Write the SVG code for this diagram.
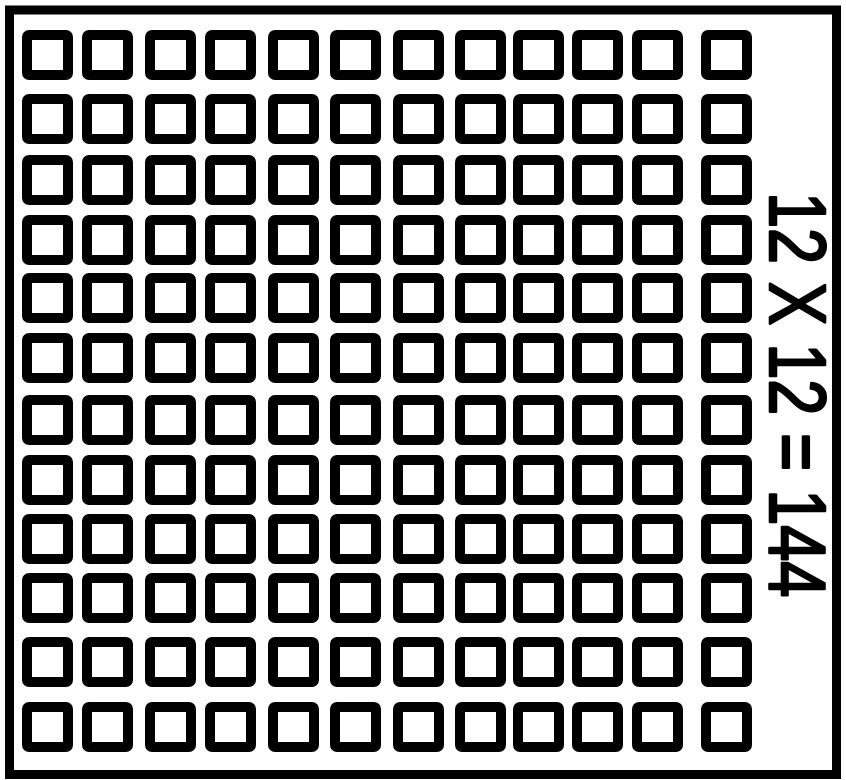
<svg xmlns="http://www.w3.org/2000/svg" xmlns:xlink="http://www.w3.org/1999/xlink" width="846" height="780" viewBox="0 0 846 780">
  <style>
    .frame { fill: #ffffff; stroke: #000000; stroke-width: 9; }
    .sq { fill: #ffffff; stroke: #000000; stroke-width: 10; stroke-linejoin: round; }
    .label { font-family: "Liberation Sans", Arial, sans-serif; font-size: 80px; fill: #000000; stroke: #000000; stroke-width: 2.6; stroke-linejoin: round; }
  </style>
  <defs>
    <rect id="sq" class="sq" x="5" y="5" width="41" height="40" rx="2" ry="2"/>
  </defs>
  <rect width="846" height="780" fill="#ffffff"/>
  <rect id="frame" class="frame" x="9.5" y="10" width="827" height="764.5"/>
  <g id="grid">
    <g id="row1" transform="translate(0,30)">
      <use xlink:href="#sq" x="22"/><use xlink:href="#sq" x="82"/><use xlink:href="#sq" x="145"/><use xlink:href="#sq" x="205"/><use xlink:href="#sq" x="268"/><use xlink:href="#sq" x="330"/><use xlink:href="#sq" x="393"/><use xlink:href="#sq" x="455"/><use xlink:href="#sq" x="513"/><use xlink:href="#sq" x="572"/><use xlink:href="#sq" x="632"/><use xlink:href="#sq" x="701"/>
    </g>
    <g id="row2" transform="translate(0,94)">
      <use xlink:href="#sq" x="22"/><use xlink:href="#sq" x="82"/><use xlink:href="#sq" x="145"/><use xlink:href="#sq" x="205"/><use xlink:href="#sq" x="268"/><use xlink:href="#sq" x="330"/><use xlink:href="#sq" x="393"/><use xlink:href="#sq" x="455"/><use xlink:href="#sq" x="513"/><use xlink:href="#sq" x="572"/><use xlink:href="#sq" x="632"/><use xlink:href="#sq" x="701"/>
    </g>
    <g id="row3" transform="translate(0,155)">
      <use xlink:href="#sq" x="22"/><use xlink:href="#sq" x="82"/><use xlink:href="#sq" x="145"/><use xlink:href="#sq" x="205"/><use xlink:href="#sq" x="268"/><use xlink:href="#sq" x="330"/><use xlink:href="#sq" x="393"/><use xlink:href="#sq" x="455"/><use xlink:href="#sq" x="513"/><use xlink:href="#sq" x="572"/><use xlink:href="#sq" x="632"/><use xlink:href="#sq" x="701"/>
    </g>
    <g id="row4" transform="translate(0,215)">
      <use xlink:href="#sq" x="22"/><use xlink:href="#sq" x="82"/><use xlink:href="#sq" x="145"/><use xlink:href="#sq" x="205"/><use xlink:href="#sq" x="268"/><use xlink:href="#sq" x="330"/><use xlink:href="#sq" x="393"/><use xlink:href="#sq" x="455"/><use xlink:href="#sq" x="513"/><use xlink:href="#sq" x="572"/><use xlink:href="#sq" x="632"/><use xlink:href="#sq" x="701"/>
    </g>
    <g id="row5" transform="translate(0,273)">
      <use xlink:href="#sq" x="22"/><use xlink:href="#sq" x="82"/><use xlink:href="#sq" x="145"/><use xlink:href="#sq" x="205"/><use xlink:href="#sq" x="268"/><use xlink:href="#sq" x="330"/><use xlink:href="#sq" x="393"/><use xlink:href="#sq" x="455"/><use xlink:href="#sq" x="513"/><use xlink:href="#sq" x="572"/><use xlink:href="#sq" x="632"/><use xlink:href="#sq" x="701"/>
    </g>
    <g id="row6" transform="translate(0,333)">
      <use xlink:href="#sq" x="22"/><use xlink:href="#sq" x="82"/><use xlink:href="#sq" x="145"/><use xlink:href="#sq" x="205"/><use xlink:href="#sq" x="268"/><use xlink:href="#sq" x="330"/><use xlink:href="#sq" x="393"/><use xlink:href="#sq" x="455"/><use xlink:href="#sq" x="513"/><use xlink:href="#sq" x="572"/><use xlink:href="#sq" x="632"/><use xlink:href="#sq" x="701"/>
    </g>
    <g id="row7" transform="translate(0,395)">
      <use xlink:href="#sq" x="22"/><use xlink:href="#sq" x="82"/><use xlink:href="#sq" x="145"/><use xlink:href="#sq" x="205"/><use xlink:href="#sq" x="268"/><use xlink:href="#sq" x="330"/><use xlink:href="#sq" x="393"/><use xlink:href="#sq" x="455"/><use xlink:href="#sq" x="513"/><use xlink:href="#sq" x="572"/><use xlink:href="#sq" x="632"/><use xlink:href="#sq" x="701"/>
    </g>
    <g id="row8" transform="translate(0,455)">
      <use xlink:href="#sq" x="22"/><use xlink:href="#sq" x="82"/><use xlink:href="#sq" x="145"/><use xlink:href="#sq" x="205"/><use xlink:href="#sq" x="268"/><use xlink:href="#sq" x="330"/><use xlink:href="#sq" x="393"/><use xlink:href="#sq" x="455"/><use xlink:href="#sq" x="513"/><use xlink:href="#sq" x="572"/><use xlink:href="#sq" x="632"/><use xlink:href="#sq" x="701"/>
    </g>
    <g id="row9" transform="translate(0,514)">
      <use xlink:href="#sq" x="22"/><use xlink:href="#sq" x="82"/><use xlink:href="#sq" x="145"/><use xlink:href="#sq" x="205"/><use xlink:href="#sq" x="268"/><use xlink:href="#sq" x="330"/><use xlink:href="#sq" x="393"/><use xlink:href="#sq" x="455"/><use xlink:href="#sq" x="513"/><use xlink:href="#sq" x="572"/><use xlink:href="#sq" x="632"/><use xlink:href="#sq" x="701"/>
    </g>
    <g id="row10" transform="translate(0,573)">
      <use xlink:href="#sq" x="22"/><use xlink:href="#sq" x="82"/><use xlink:href="#sq" x="145"/><use xlink:href="#sq" x="205"/><use xlink:href="#sq" x="268"/><use xlink:href="#sq" x="330"/><use xlink:href="#sq" x="393"/><use xlink:href="#sq" x="455"/><use xlink:href="#sq" x="513"/><use xlink:href="#sq" x="572"/><use xlink:href="#sq" x="632"/><use xlink:href="#sq" x="701"/>
    </g>
    <g id="row11" transform="translate(0,637)">
      <use xlink:href="#sq" x="22"/><use xlink:href="#sq" x="82"/><use xlink:href="#sq" x="145"/><use xlink:href="#sq" x="205"/><use xlink:href="#sq" x="268"/><use xlink:href="#sq" x="330"/><use xlink:href="#sq" x="393"/><use xlink:href="#sq" x="455"/><use xlink:href="#sq" x="513"/><use xlink:href="#sq" x="572"/><use xlink:href="#sq" x="632"/><use xlink:href="#sq" x="701"/>
    </g>
    <g id="row12" transform="translate(0,702)">
      <use xlink:href="#sq" x="22"/><use xlink:href="#sq" x="82"/><use xlink:href="#sq" x="145"/><use xlink:href="#sq" x="205"/><use xlink:href="#sq" x="268"/><use xlink:href="#sq" x="330"/><use xlink:href="#sq" x="393"/><use xlink:href="#sq" x="455"/><use xlink:href="#sq" x="513"/><use xlink:href="#sq" x="572"/><use xlink:href="#sq" x="632"/><use xlink:href="#sq" x="701"/>
    </g>
  </g>
  <g id="label">
    <text class="label" transform="translate(770,192) rotate(90) scale(0.81,1)" x="0" y="0">12 X 12 = 144</text>
  </g>
</svg>
